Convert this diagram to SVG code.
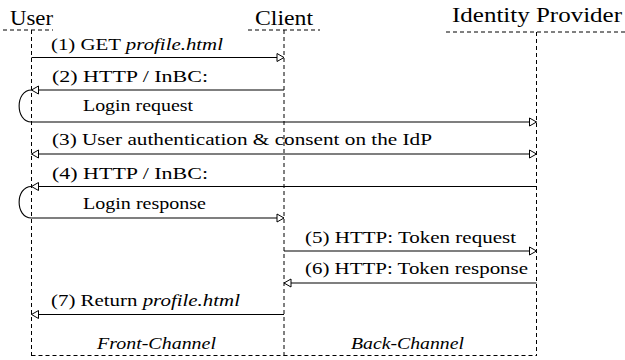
<svg xmlns="http://www.w3.org/2000/svg" width="625" height="360" viewBox="0 0 625 360">
<style>
.dash{stroke:#000;stroke-width:1;stroke-dasharray:4,3;fill:none}
.msg{stroke:#000;stroke-width:1.1;fill:none}
.arr{marker-end:url(#ah)}
text{font-family:'Liberation Serif','Times New Roman',Times,'DejaVu Serif',serif}
.hd{font-size:20px;fill:#000}
.lb{font-size:17px;fill:#000}
.it{font-style:italic}
</style>
<defs>
<marker id="ah" markerUnits="userSpaceOnUse" markerWidth="10" markerHeight="10" refX="7" refY="4" orient="auto-start-reverse" overflow="visible">
<path d="M0,0 L7,4 L0,8 Z" fill="#fff" stroke="#000" stroke-width="1"/>
</marker>
</defs>
<rect width="625" height="360" fill="#fff"/>
<g id="user">
<text class="hd" x="10" y="25" textLength="43" lengthAdjust="spacingAndGlyphs" style="font-family:'Liberation Serif',serif">User</text>
<line class="dash" x1="3" y1="30" x2="53" y2="30"/>
<line class="dash" x1="31.5" y1="30" x2="31.5" y2="356"/>
</g>
<g id="client">
<text class="hd" x="255" y="25" textLength="58" lengthAdjust="spacingAndGlyphs" style="font-family:'Liberation Serif',serif">Client</text>
<line class="dash" x1="248" y1="30" x2="320" y2="30"/>
<line class="dash" x1="284" y1="30" x2="284" y2="356"/>
</g>
<g id="idp">
<text class="hd" x="452" y="22" textLength="170" lengthAdjust="spacingAndGlyphs" style="font-family:'Liberation Serif',serif">Identity Provider</text>
<line class="dash" x1="446" y1="32" x2="625" y2="32"/>
<line class="dash" x1="536.5" y1="32" x2="536.5" y2="356"/>
</g>
<g id="channels">
<line class="dash" x1="31.5" y1="355.5" x2="536.5" y2="355.5"/>
<text class="lb it" x="97" y="349" textLength="119" lengthAdjust="spacingAndGlyphs" style="font-family:'Liberation Serif',serif">Front-Channel</text>
<text class="lb it" x="351" y="349" textLength="113" lengthAdjust="spacingAndGlyphs" style="font-family:'Liberation Serif',serif">Back-Channel</text>
</g>
<g id="connectors">
<line class="msg arr" x1="31.5" y1="57.5" x2="284" y2="57.5"/>
<line class="msg arr" x1="284" y1="90" x2="31.5" y2="90"/>
<path class="msg" d="M31.5,90 C15,90 15,122 31.5,122"/>
<line class="msg arr" x1="31.5" y1="122" x2="536.5" y2="122"/>
<line class="msg arr" x1="31.5" y1="154" x2="536.5" y2="154" marker-start="url(#ah)"/>
<line class="msg arr" x1="536.5" y1="186.5" x2="31.5" y2="186.5"/>
<path class="msg" d="M31.5,186.5 C15,186.5 15,218 31.5,218"/>
<line class="msg arr" x1="31.5" y1="218" x2="284" y2="218"/>
<line class="msg arr" x1="284" y1="251" x2="536.5" y2="251"/>
<line class="msg arr" x1="536.5" y1="283" x2="284" y2="283"/>
<line class="msg arr" x1="284" y1="314.5" x2="31.5" y2="314.5"/>
</g>
<g id="labels" style="font-family:'Liberation Serif',serif">
<text class="lb" x="51" y="50" textLength="172" lengthAdjust="spacingAndGlyphs">(1) GET <tspan class="it">profile.html</tspan></text>
<text class="lb" x="52" y="82" textLength="156" lengthAdjust="spacingAndGlyphs">(2) HTTP / InBC:</text>
<text class="lb" x="83" y="111" textLength="110" lengthAdjust="spacingAndGlyphs">Login request</text>
<text class="lb" x="52" y="145" textLength="380" lengthAdjust="spacingAndGlyphs">(3) User authentication &amp; consent on the IdP</text>
<text class="lb" x="52" y="179" textLength="156" lengthAdjust="spacingAndGlyphs">(4) HTTP / InBC:</text>
<text class="lb" x="83" y="209" textLength="123" lengthAdjust="spacingAndGlyphs">Login response</text>
<text class="lb" x="305" y="243" textLength="211" lengthAdjust="spacingAndGlyphs">(5) HTTP: Token request</text>
<text class="lb" x="305" y="274" textLength="223" lengthAdjust="spacingAndGlyphs">(6) HTTP: Token response</text>
<text class="lb" x="51" y="306" textLength="189" lengthAdjust="spacingAndGlyphs">(7) Return <tspan class="it">profile.html</tspan></text>
</g>
</svg>
